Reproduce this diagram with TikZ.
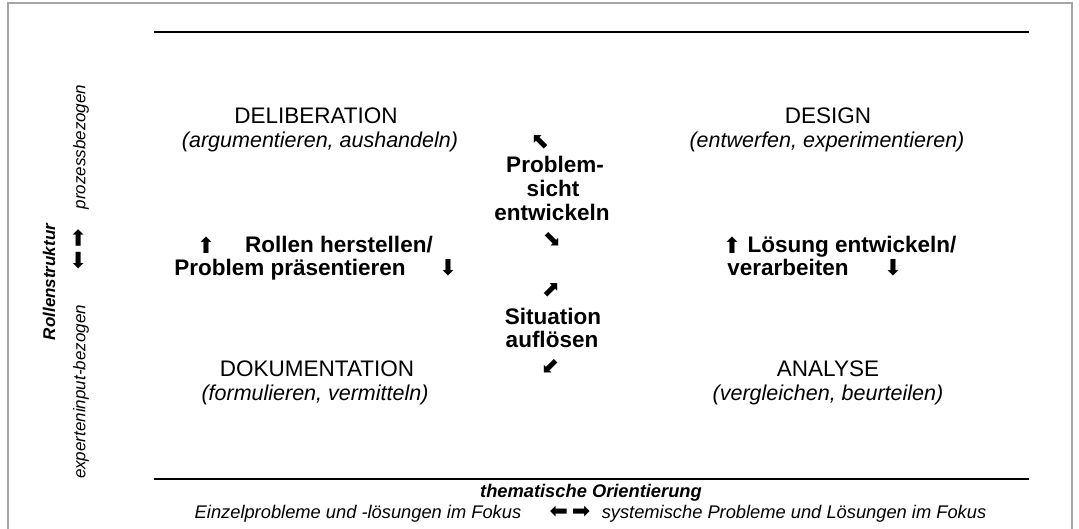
\documentclass[tikz,border=0pt]{standalone}
\usepackage{fontspec}
\setmainfont{Liberation Sans}
\newfontfamily\arrowfont{DejaVu Sans}

\tikzset{
	quadname/.style={font=\fontsize{22.5}{27}\selectfont, anchor=base, inner sep=0pt},
	quadverb/.style={font=\fontsize{21.5}{26}\selectfont\itshape, anchor=base, inner sep=0pt},
	movetext/.style={font=\fontsize{22.5}{27}\selectfont\bfseries, anchor=base, inner sep=0pt},
	arrowsym/.style={font=\fontsize{22}{24}\selectfont\arrowfont, inner sep=0pt},
	axistext/.style={font=\fontsize{18.3}{22}\selectfont\itshape, anchor=base, inner sep=0pt},
	sidetext/.style={font=\fontsize{17}{20}\selectfont\itshape, rotate=90, inner sep=0pt}
}

\begin{document}
\begin{tikzpicture}[x=1pt,y=-1pt]
		\useasboundingbox (0,0) rectangle (1079,529);
		\coordinate (FrameMin) at (8,3);
		\coordinate (FrameMax) at (1072,540);
		\draw [gray!70, line width=1.5pt] (FrameMin) rectangle (FrameMax);% Frame, open at the bottom

		\coordinate (TopMin) at (154,32);
		\coordinate (TopMax) at (1029,32);
		\coordinate (BotMin) at (154,479);
		\coordinate (BotMax) at (1029,479);
		\draw [black, line width=2.5pt] (TopMin) -- (TopMax);% upper rule
		\draw [black, line width=2.5pt] (BotMin) -- (BotMax);% lower rule

		% the four quadrants
		\node[quadname] (delib) at (316,124) {DELIBERATION};
		\node[quadverb] (delibverb) at (320,148) {(argumentieren, aushandeln)};
		\node[quadname] (design) at (828,124) {DESIGN};
		\node[quadverb] (designverb) at (827,148) {(entwerfen, experimentieren)};
		\node[quadname] (doku) at (317,376) {DOKUMENTATION};
		\node[quadverb] (dokuverb) at (315,400) {(formulieren, vermitteln)};
		\node[quadname] (analyse) at (828,376) {ANALYSE};
		\node[quadverb] (analyseverb) at (828,400) {(vergleichen, beurteilen)};

		% moves between the quadrants
		\node[movetext] (rollen) at (339,253) {Rollen herstellen/};
		\node[movetext] (praes) at (290,276) {Problem präsentieren};
		\node[arrowsym] (rollenup) at (206,245) {⬆};
		\node[arrowsym] (praesdown) at (448,268) {⬇};

		\node[movetext] (loesung) at (852,253) {Lösung entwickeln/};
		\node[movetext] (verarb) at (788,276) {verarbeiten};
		\node[arrowsym] (loesungup) at (732,245) {⬆};
		\node[arrowsym] (verarbdown) at (893,268) {⬇};

		\node[movetext] (sicht1) at (555,173) {Problem-};
		\node[movetext] (sicht2) at (553,197) {sicht};
		\node[movetext] (sicht3) at (552,221) {entwickeln};
		\node[movetext] (sit1) at (553,324) {Situation};
		\node[movetext] (sit2) at (552,348) {auflösen};
		\foreach \name/\x/\y/\sym in {nw/540/142/⬉, se/552/239/⬊, ne/551/290/⬈, sw/550/366/⬋}{% arrows of the middle column
			\node[arrowsym] (mid\name) at (\x,\y) {\sym};
		}

		% axis labels
		\node[axistext, font=\fontsize{18.3}{22}\selectfont\bfseries\itshape] (themat) at (591,497) {thematische Orientierung};
		\node[axistext] (einzel) at (358,518) {Einzelprobleme und -lösungen im Fokus};
		\node[arrowsym] (lrarrows) at (570,512) {⬅\hspace{4pt}➡};
		\node[axistext] (system) at (794,518) {systemische Probleme und Lösungen im Fokus};

		\node[sidetext, font=\fontsize{17}{20}\selectfont\bfseries\itshape] (rollenstr) at (49,282) {Rollenstruktur};
		\node[sidetext] (prozess) at (81,147) {prozessbezogen};
		\node[arrowsym, rotate=90] (udarrows) at (79,249) {⬅\hspace{4pt}➡};
		\node[sidetext] (experten) at (81,392) {experteninput-bezogen};
	  \end{tikzpicture}
\end{document}
